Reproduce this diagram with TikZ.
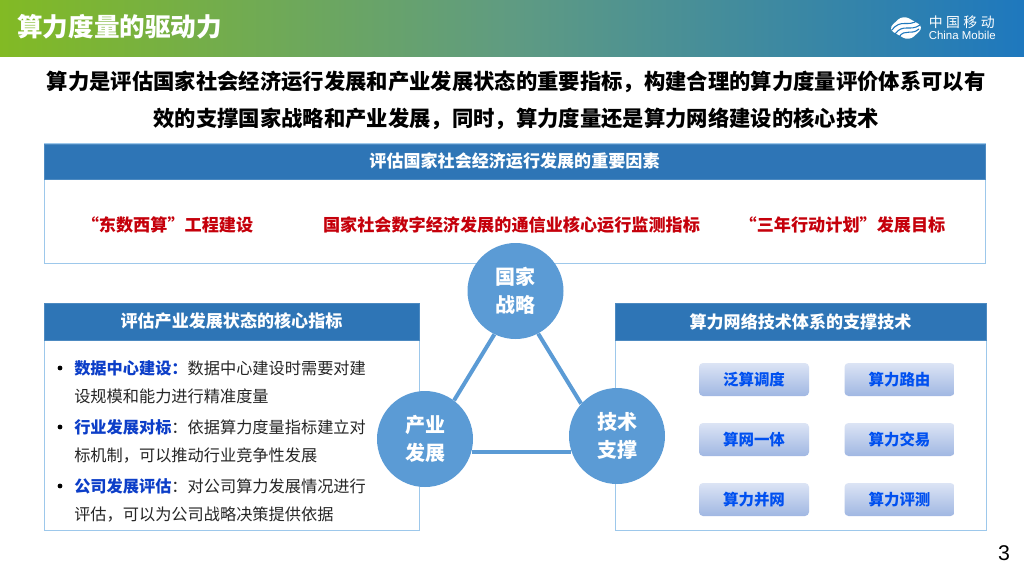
\documentclass[tikz,border=0pt]{standalone}
\usepackage{fontspec}
\setmainfont{Noto Sans CJK SC}
\newfontfamily\latinfont{Liberation Sans}
\usetikzlibrary{calc,positioning}
\definecolor{hdrblue}{RGB}{46,117,182}
\definecolor{edgeblue}{RGB}{157,200,235}
\definecolor{ballblue}{RGB}{91,155,213}
\definecolor{keyred}{RGB}{197,0,11}
\definecolor{keyblue}{RGB}{12,62,200}
\definecolor{btnblue}{RGB}{0,80,240}
\definecolor{bartop}{RGB}{130,186,36}
\definecolor{barmid}{RGB}{95,155,130}
\definecolor{barend}{RGB}{30,120,190}
\definecolor{bodygray}{RGB}{38,38,38}
\definecolor{btntop}{RGB}{220,228,245}
\definecolor{btnbot}{RGB}{160,183,226}
\newcommand{\pfont}[1]{\fontsize{#1}{#1}\selectfont}
\tikzset{
  panel/.style={rectangle, draw=edgeblue, line width=0.7pt, fill=white, inner sep=0pt},
  hdr/.style={rectangle, fill=hdrblue, draw=hdrblue!85!white, line width=0.4pt, inner sep=0pt, text=white, font=\pfont{12.8}\bfseries},
  ball/.style={circle, fill=ballblue, minimum size=72pt, inner sep=0pt, text=white, align=center, font=\fontsize{15}{21}\selectfont\bfseries},
  btn/.style={rectangle, rounded corners=3pt, top color=btntop, bottom color=btnbot, minimum width=82.5pt, minimum height=24.75pt, inner sep=0pt, text=btnblue, font=\pfont{11.6}\bfseries},
  redtxt/.style={text=keyred, inner sep=0pt, font=\pfont{12.85}\bfseries},
  lead/.style={inner sep=0pt, text=black, font=\pfont{16}\bfseries},
  item/.style={anchor=north west, inner sep=0pt, align=left, text=bodygray, font=\fontsize{12.15}{21.4}\selectfont},
  dotb/.style={circle, fill=black, inner sep=0pt, minimum size=3.6pt},
  link/.style={ballblue, line width=3pt},
}
\begin{document}
\begin{tikzpicture}[x=0.75pt,y=-0.75pt]
  \useasboundingbox (0,0) rectangle (1024,576);
  %% --- title bar ---
  \fill[left color=bartop, right color=barend, middle color=barmid] (0,0) rectangle (1024,56);
  \node[anchor=west, inner sep=0pt, text=white, font=\pfont{19.2}\bfseries] (title) at (17,26.5) {算力度量的驱动力};

  % logo
  \begin{scope}[shift={(906,28)}]
    \fill[white, rounded corners=5pt] (-18,1) -- (-3,-13) -- (18,-1) -- (3,13) -- cycle;
    \draw[barend, line width=0.8pt] (-14,2) .. controls (-5,-10) and (2,0) .. (12,-8);
    \draw[barend, line width=0.8pt] (-11,6) .. controls (-3,-5) and (4,4) .. (14,-3);
    \draw[barend, line width=0.8pt] (-7,9) .. controls (-1,0) and (5,8) .. (13,1);
  \end{scope}
  \node[anchor=west, inner sep=0pt, text=white, font=\pfont{10.4}\addfontfeature{LetterSpace=25}] (logocn) at (928.5,22) {中国移动};
  \node[anchor=west, inner sep=0pt, text=white, font=\latinfont\pfont{8.6}] (logoen) at (928.5,35.5) {China Mobile};

  %% --- lead text ---
  \node[lead] (lead1) at (516,82) {算力是评估国家社会经济运行发展和产业发展状态的重要指标，构建合理的算力度量评价体系可以有};
  \node[lead] (lead2) at (516,119) {效的支撑国家战略和产业发展，同时，算力度量还是算力网络建设的核心技术};

  %% --- top panel ---
  \node[panel, minimum width=705.75pt, minimum height=89.5pt] (toppanel) at (514.5,203.5) {};
  \node[hdr, minimum width=705.75pt, minimum height=26.25pt] (tophdr) at (514.5,161.5) {评估国家社会经济运行发展的重要因素};
  \node[redtxt] (red1) at (167.5,225) {“东数西算”工程建设};
  \node[redtxt] (red2) at (511.5,225) {国家社会数字经济发展的通信业核心运行监测指标};
  \node[redtxt] (red3) at (842.5,225) {“三年行动计划”发展目标};

  %% --- left panel ---
  \node[panel, minimum width=281.25pt, minimum height=170.25pt] (leftpanel) at (231.5,416.5) {};
  \node[hdr, minimum width=281.25pt, minimum height=27.75pt] (lefthdr) at (231.5,321.5) {评估产业发展状态的核心指标};
  \node[item] (item1) at (74,360) {\textcolor{keyblue}{\textbf{数据中心建设：}}数据中心建设时需要对建\\设规模和能力进行精准度量};
  \node[item] (item2) at (74,419) {\textcolor{keyblue}{\textbf{行业发展对标}}：依据算力度量指标建立对\\标机制，可以推动行业竞争性发展};
  \node[item] (item3) at (74,478) {\textcolor{keyblue}{\textbf{公司发展评估}}：对公司算力发展情况进行\\评估，可以为公司战略决策提供依据};
  \foreach \i/\y in {1/368,2/427,3/486}
    \node[dotb] (dot\i) at (60,\y) {};

  %% --- right panel ---
  \node[panel, minimum width=278.25pt, minimum height=170.25pt] (rightpanel) at (800.5,417) {};
  \node[hdr, minimum width=278.25pt, minimum height=27.75pt] (righthdr) at (800.5,321.5) {算力网络技术体系的支撑技术};
  \foreach \n/\t/\px/\py in {a/泛算调度/754/379.5, b/算力路由/899.5/379.5, c/算网一体/754/439.5, d/算力交易/899.5/439.5, e/算力并网/754/499.5, f/算力评测/899.5/499.5}
    \node[btn] (btn\n) at (\px,\py) {\t};

  %% --- triangle ---
  \node[ball] (guojia) at (515.5,291) {国家\\战略};
  \node[ball] (chanye) at (425,439) {产业\\发展};
  \node[ball] (jishu) at (617,436) {技术\\支撑};
  \draw[link] (guojia.244) -- (chanye.53);
  \draw[link] (guojia.298) -- (jishu.138);
  \draw[link] (chanye.345.5) -- (chanye.345.5 -| jishu.198);

  \node[inner sep=0pt, text=black, font=\latinfont\pfont{16}] (pageno) at (1004,553) {3};
\end{tikzpicture}
\end{document}
